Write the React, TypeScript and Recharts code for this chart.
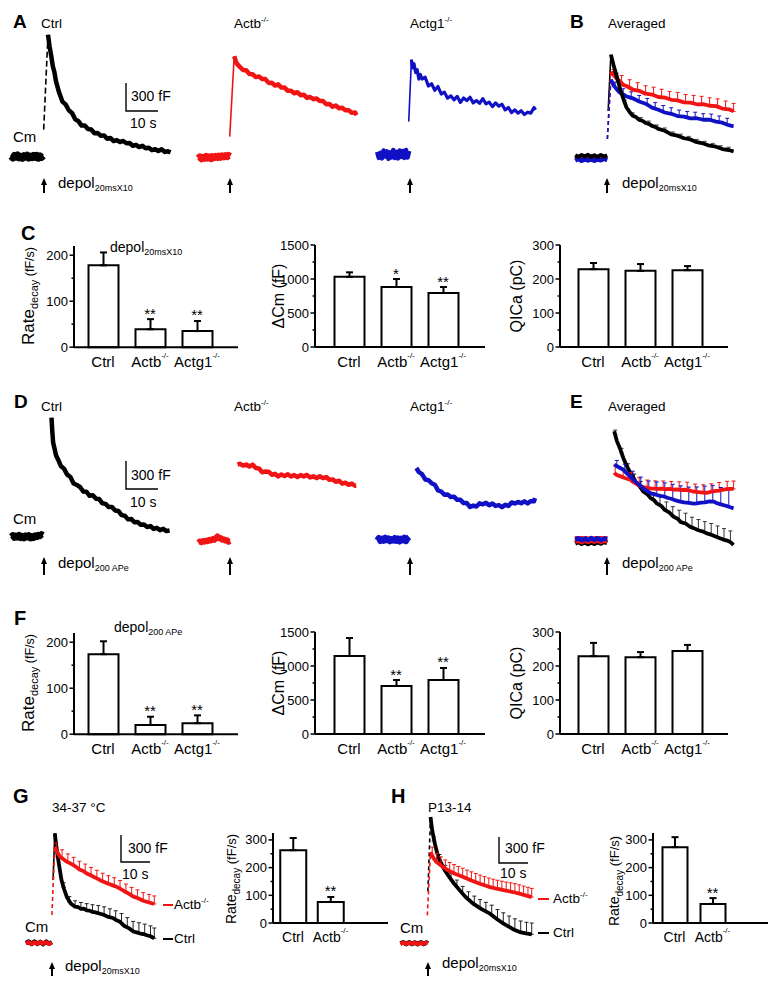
import React from 'react';
import { LineChart, Line, XAxis, YAxis, ErrorBar, ComposedChart, Bar, Scatter } from 'recharts';

const FONT = "'Liberation Sans', Arial, Helvetica, sans-serif";
const BLACK = '#000000';
const RED = '#f01414';
const BLUE = '#1010c4';

type Pt = [number, number];
type EPt = [number, number, number];

// ---------------- Panel A (single traces, depol 20ms x10) ----------------
const aCtrlBase: Pt[] = [[-10,5],[-9.5,-15],[-9,12],[-8.5,-5],[-8,18],[-7.5,-12],[-7,3],[-6.5,-18],[-6,10],[-5.5,-4],[-5,15],[-4.5,-14],[-4,6],[-3.5,-10],[-3,14],[-2.5,-6],[-2,12],[-1.5,-16],[-1,8],[-0.5,-8],[0,10]];
const aCtrlRise: Pt[] = [[0.15,290],[1.5,1307]];
const aCtrlDecay: Pt[] = [[1.5,1307],[2,1180],[2.5,1083],[3,970],[3.5,907],[4,807],[5,684],[6,590],[7,560],[8,497],[9,469],[10,401],[11,381],[12,333],[13,335],[14,296],[15,291],[16,251],[17,253],[18,225],[19,228],[20,192],[21,200],[22,167],[23,178],[24,157],[25,168],[26,144],[27,147],[28,117],[29,127],[30,103],[31,117],[32,90],[33,96],[34,70],[35,80],[36,60],[37,79],[38,51],[39,57],[39.8,46]];

const aActbBase: Pt[] = [[-10,-8],[-9.5,8],[-9,-12],[-8.5,4],[-8,-6],[-7.5,12],[-7,-4],[-6.5,8],[-6,-10],[-5.5,10],[-5,0],[-4.5,14],[-4,2],[-3.5,16],[-3,4],[-2.5,20],[-2,8],[-1.5,22],[-1,10],[-0.5,24],[0,14]];
const aActbRise: Pt[] = [[-0.15,225],[1.25,1086]];
const aActbDecay: Pt[] = [[1.25,1086],[1.6,1050],[2,1010],[3,973],[4,940],[5,937],[6,897],[7,894],[8,863],[9,870],[10,842],[11,842],[12,801],[13,803],[14,773],[15,785],[16,751],[17,751],[18,716],[19,718],[20,690],[21,701],[22,669],[23,675],[24,640],[25,650],[26,627],[27,634],[28,607],[29,607],[30,572],[31,576],[32,546],[33,559],[34,530],[35,535],[36,508],[37,509],[38,480],[39,485],[39.5,455]];

const aActg1Base: Pt[] = [[-10,30],[-9.5,-35],[-9,20],[-8.5,-40],[-8,45],[-7.5,-20],[-7,35],[-6.5,-45],[-6,25],[-5.5,-30],[-5,50],[-4.5,-35],[-4,30],[-3.5,-40],[-3,45],[-2.5,-25],[-2,40],[-1.5,-35],[-1,50],[-0.5,-30],[0,40]];
const aActg1Rise: Pt[] = [[-0.15,354],[0.7,1018]];
const aActg1Decay: Pt[] = [[0.7,1018],[1,930],[1.5,975],[2,880],[2.5,910],[3,810],[3.5,860],[4,810],[5,830],[6,735],[7,760],[8,690],[9,730],[10,650],[11,670],[12,605],[13,630],[14,587],[15,625],[16,560],[17,607],[18,579],[19,615],[20,555],[21,580],[22,550],[23,600],[24,545],[25,563],[26,515],[27,555],[28,520],[29,540],[30,480],[31,505],[32,450],[33,480],[34,445],[35,470],[36,430],[37,455],[38,445],[39,505],[39.5,480]];

// ---------------- Panel B (averaged, depol 20ms x10) ----------------
const bCtrlBase: Pt[] = [[-10,25],[-9,8],[-8,28],[-7,12],[-6,30],[-5,10],[-4,26],[-3,8],[-2,28],[-1,12],[0,24]];
const bActbBase: Pt[] = [[-10,-5],[-9,8],[-8,-10],[-7,5],[-6,-8],[-5,10],[-4,-5],[-3,8],[-2,-10],[-1,5],[0,-5]];
const bActg1Base: Pt[] = [[-10,-30],[-9,-12],[-8,-34],[-7,-16],[-6,-30],[-5,-14],[-4,-34],[-3,-16],[-2,-28],[-1,-12],[0,-26]];
const bCtrlRise: Pt[] = [[0.3,500],[1.15,1104]];
const bActbRise: Pt[] = [[0.05,200],[1.15,921]];
const bActg1Rise: Pt[] = [[0.05,200],[1.15,836]];
const bCtrlMean: Pt[] = [[1.15,1104],[2,990],[3,870],[4,740],[5,635],[6,540],[7,490],[8,450],[9,435],[10,405],[11,395],[12,372],[13,362],[14,340],[15,330],[16,308],[18,288],[20,250],[22,235],[24,208],[26,195],[28,166],[30,152],[32,128],[34,117],[36,92],[38,82],[39.5,66]];
const bActbMean: Pt[] = [[1.15,921],[2,885],[3,845],[4,818],[5,780],[6,768],[8,730],[10,716],[12,685],[14,676],[16,650],[18,644],[20,620],[22,614],[24,592],[26,590],[28,572],[30,574],[32,556],[34,552],[36,526],[38,518],[39.5,496]];
const bActg1Mean: Pt[] = [[1.15,836],[2,775],[3,732],[4,696],[5,678],[6,656],[8,636],[10,602],[12,578],[14,536],[16,514],[18,484],[20,470],[22,446],[24,440],[26,421],[28,422],[30,406],[32,406],[34,386],[36,375],[38,348],[39.5,336]];
const bCtrlErr: EPt[] = [[3,870,35],[5.5,585,30],[8,450,30],[10.5,400,30],[13,362,30],[15.5,320,30],[18,288,30],[20.5,245,30],[23,222,30],[25.5,198,30],[28,166,30],[30.5,145,30],[33,123,30],[35.5,98,30],[38,82,30]];
const bActbErr: EPt[] = [[2,885,60],[4.5,800,80],[7,750,85],[9.5,718,85],[12,685,85],[14.5,670,85],[17,648,85],[19.5,625,85],[22,614,85],[24.5,592,85],[27,582,85],[29.5,572,85],[32,556,85],[34.5,545,85],[37,522,85],[39.5,496,85]];
const bActg1Err: EPt[] = [[2.5,755,55],[5,678,60],[7.5,640,65],[10,602,65],[12.5,570,65],[15,525,65],[17.5,494,65],[20,470,65],[22.5,445,65],[25,430,65],[27.5,422,65],[30,406,65],[32.5,402,65],[35,382,65],[37.5,357,65]];

// ---------------- Panel D (single traces, depol 200 APe) ----------------
const dCtrlBase: Pt[] = [[-10,0],[-9.5,14],[-9,-10],[-8.5,8],[-8,-6],[-7.5,15],[-7,-12],[-6.5,4],[-6,-15],[-5.5,10],[-5,-5],[-4.5,12],[-4,-16],[-3.5,2],[-3,-12],[-2.5,10],[-2,-2],[-1.5,18],[-1,8],[-0.5,24],[0,16]];
const dCtrlDecay: Pt[] = [[2.6,1275],[2.8,1150],[3.1,1010],[3.5,950],[4,872],[4.6,830],[5.5,758],[6.5,729],[7.5,664],[8.5,639],[9.5,570],[10.5,554],[11.5,532],[12.5,485],[13.5,482],[14.5,438],[15.5,443],[16.5,407],[17.5,403],[18.5,357],[19.5,351],[20.5,317],[21.5,318],[22.5,281],[23.5,276],[24.5,231],[25.5,225],[26.5,185],[27.5,190],[28.5,154],[29.5,158],[30.5,127],[31.5,130],[32.5,103],[33.5,114],[34.5,83],[35.5,94],[36.5,70],[37.5,84],[38.5,60],[39.5,65]];
const dActbBase: Pt[] = [[-10,0],[-9.5,12],[-9,4],[-8.5,18],[-8,10],[-7.5,24],[-7,16],[-6.5,32],[-6,24],[-5.5,38],[-5,30],[-4.5,48],[-4,66],[-3.5,46],[-3,50],[-2.5,32],[-2,36],[-1.5,22],[-1,26],[-0.5,10],[0,18]];
const dActbDecay: Pt[] = [[2.3,836],[3,845],[4,827],[5,837],[6,816],[7,836],[8,799],[9,794],[10,755],[11,762],[12,760],[13,728],[14,737],[15,710],[16,731],[17,715],[18,733],[19,709],[20,724],[21,704],[22,724],[23,710],[24,726],[25,699],[26,711],[27,691],[28,712],[29,691],[30,703],[31,674],[32,678],[33,652],[34,664],[35,632],[36,643],[37,620],[38,634],[39,610],[39.4,611]];
const dActg1Base: Pt[] = [[-10,-8],[-9.5,18],[-9,-15],[-8.5,10],[-8,-12],[-7.5,22],[-7,-6],[-6.5,14],[-6,-18],[-5.5,6],[-5,-10],[-4.5,18],[-4,-14],[-3.5,14],[-3,-20],[-2.5,10],[-2,-6],[-1.5,22],[-1,-16],[-0.5,14],[0,28]];
const dActg1Decay: Pt[] = [[2.25,768],[3,725],[4,702],[5,645],[6,638],[7,605],[8,589],[9,528],[10,516],[11,481],[12,485],[13,456],[14,461],[15,427],[16,427],[17,392],[18,392],[19,350],[20,365],[21,355],[22,389],[23,379],[24,394],[25,368],[26,387],[27,362],[28,370],[29,348],[30,373],[31,361],[32,398],[33,388],[34,404],[35,390],[36,410],[37,389],[38,412],[39,411],[39.3,445]];

// ---------------- Panel E (averaged, depol 200 APe) ----------------
const eCtrlBase: Pt[] = [[-10,-18],[-9,-2],[-8,-22],[-7,-6],[-6,-24],[-5,-8],[-4,-22],[-3,-4],[-2,-20],[-1,-2],[0,-14]];
const eActbBase: Pt[] = [[-10,0],[-9,12],[-8,-5],[-7,10],[-6,-2],[-5,14],[-4,0],[-3,12],[-2,-4],[-1,10],[0,2]];
const eActg1Base: Pt[] = [[-10,20],[-9,36],[-8,16],[-7,34],[-6,18],[-5,38],[-4,20],[-3,36],[-2,16],[-1,34],[0,24]];
const eActbBaseErr: EPt[] = [[-9.5,10,45],[-8,10,45],[-6.5,10,45],[-5,10,45],[-3.5,10,45],[-2,10,45],[-0.5,10,45]];
const eCtrlMean: Pt[] = [[2.2,1182],[3,1080],[4.1,990],[5,900],[6,820],[7.2,740],[8,700],[9,630],[10,600],[11.3,535],[12.5,510],[13.5,470],[14.5,448],[15.5,410],[17,380],[18,340],[19.5,310],[20.7,268],[22,245],[23,210],[24.5,195],[25.9,160],[27,145],[28.5,122],[30,108],[31.1,88],[32.5,75],[33.5,60],[35,40],[36.3,22],[37.5,12],[38.5,-5],[39.5,-35]];
const eActbMean: Pt[] = [[2.2,736],[3,715],[4,702],[5.5,682],[7.2,664],[8,640],[9,622],[10,600],[11.3,586],[12.5,575],[13.5,570],[15.5,565],[17,568],[18,562],[19.5,565],[20.7,558],[22,560],[23,552],[24.5,556],[25.9,548],[27,535],[28.5,530],[30,525],[31.1,522],[32.5,535],[33.5,542],[35,548],[36.3,557],[38,565],[39.5,565]];
const eActg1Mean: Pt[] = [[2.2,825],[3.5,800],[5.1,771],[6,735],[7.2,700],[8.3,660],[9.3,629],[10.3,600],[11.3,570],[12.4,545],[13.4,522],[14.5,508],[15.5,500],[16.6,490],[17.6,486],[19,468],[20,460],[21.4,442],[22.8,429],[24,420],[25.5,415],[27,408],[28,411],[29.3,418],[30.5,420],[32,432],[33.2,429],[34.5,410],[35.5,400],[36.5,390],[37.5,380],[38.5,368],[39.5,357]];
const eCtrlErr: EPt[] = [[2.5,1150,45],[4.5,950,50],[6.5,780,55],[8.5,665,60],[10.5,575,70],[12.5,505,75],[14.5,448,80],[16.5,392,90],[18.5,330,95],[20.5,275,100],[22.5,232,105],[24.5,195,110],[26.5,152,110],[28.5,122,115],[30.5,100,115],[32.5,75,120],[34.5,48,120],[36.5,20,120],[38.5,-5,120]];
const eActbErr: EPt[] = [[2.5,730,90],[5,690,85],[7.5,655,85],[10,600,85],[12.5,575,85],[15,566,85],[17.5,565,85],[20,560,85],[22.5,556,85],[25,552,85],[27.5,532,85],[30,525,85],[32.5,535,85],[35,548,85],[37.5,562,85],[39.5,565,85]];
const eActg1Err: EPt[] = [[3,810,60],[5.5,760,70],[8,670,85],[10.5,592,100],[13,530,120],[15.5,500,140],[18,480,150],[20.5,455,160],[23,428,170],[25.5,415,170],[28,411,175],[30.5,420,175],[33,428,175],[35.5,400,180],[38,375,180]];

// ---------------- Panel G (34-37 C) ----------------
const gCtrlBase: Pt[] = [[-9,0],[-8,15],[-7,-10],[-6,15],[-5,-10],[-4,12],[-3,-12],[-2,15],[-1,-8],[0,10]];
const gActbBase: Pt[] = [[-9,-5],[-8,10],[-7,-12],[-6,8],[-5,-10],[-4,12],[-3,-8],[-2,10],[-1,-10],[0,5]];
const gCtrlRise: Pt[] = [[0.4,700],[1.0,1219]];
const gActbRise: Pt[] = [[0,311],[1.0,1070]];
const gCtrlMean: Pt[] = [[1.0,1219],[1.5,1080],[2.2,922],[2.8,800],[3.3,700],[4.2,600],[5.1,515],[6.5,440],[7.9,404],[9,400],[10,380],[11,382],[12,362],[13,360],[14,345],[15,340],[16.6,325],[18,312],[19.5,290],[21,278],[22.3,252],[23.5,235],[25,188],[26.5,165],[28.1,128],[29.5,115],[30.5,105],[31.5,100],[32.7,86],[34,75],[35.3,52]];
const gActbMean: Pt[] = [[1.0,1070],[1.8,1010],[2.8,959],[4,930],[5,905],[6,890],[7.4,865],[8.5,842],[9.5,818],[10.8,800],[12,772],[13.2,755],[14.5,733],[15.5,718],[16.6,698],[18,678],[19.5,658],[21,640],[22.3,624],[23.5,605],[25,575],[26.5,548],[28.1,515],[29.5,500],[31.5,470],[33.5,450],[35.3,433]];
const gCtrlErr: EPt[] = [[2,960,40],[4,620,50],[6,455,60],[8,404,65],[10,380,70],[12,362,75],[14,345,80],[16,332,85],[18,312,90],[20,285,95],[22,258,100],[24,222,105],[26,172,110],[28,130,110],[30,110,115],[32,95,115],[34,75,115],[35.3,52,115]];
const gActbErr: EPt[] = [[1.5,1030,80],[3.5,945,90],[5.5,900,90],[7.5,862,90],[9.5,818,90],[11.5,787,90],[13.5,750,90],[15.5,718,90],[17.5,685,90],[19.5,658,90],[21.5,635,90],[23.5,605,90],[25.5,565,90],[27.5,528,90],[29.5,500,90],[31.5,470,90],[33.5,450,90],[35.3,433,90]];

// ---------------- Panel H (P13-14) ----------------
const hCtrlBase: Pt[] = [[-9.5,0],[-8.5,12],[-7.5,-10],[-6.5,12],[-5.5,-8],[-4.5,10],[-3.5,-10],[-2.5,12],[-1.5,-8],[-0.5,10],[0,0]];
const hActbBase: Pt[] = [[-9.5,-5],[-8.5,8],[-7.5,-8],[-6.5,10],[-5.5,-6],[-4.5,8],[-3.5,-10],[-2.5,8],[-1.5,-6],[-0.5,8],[0,-2]];
const hCtrlRise: Pt[] = [[0,600],[0.9,1457]];
const hActbRise: Pt[] = [[-0.2,323],[0.9,1053]];
const hCtrlMean: Pt[] = [[0.9,1457],[1.5,1300],[2.4,1150],[3.2,1040],[4.1,957],[5.5,860],[7,784],[9,690],[11,611],[13,535],[15.6,458],[18.5,395],[21.4,342],[24,275],[25.5,240],[27.1,208],[28.5,180],[29.5,160],[31.7,130],[33.8,115],[35.8,104]];
const hActbMean: Pt[] = [[0.9,1053],[1.8,990],[3.0,938],[5,885],[7,842],[9.5,800],[12.2,765],[15,725],[17.9,688],[20.8,655],[23.7,630],[26.5,610],[29.4,592],[32.5,565],[35.8,534]];
const hCtrlErr: EPt[] = [[2,1180,50],[4,965,60],[6,830,70],[8,735,75],[10,650,80],[12,572,85],[14,505,90],[16,450,95],[18,405,100],[20,368,105],[22,330,110],[24,275,115],[26,232,120],[28,190,125],[30,153,130],[32,128,130],[34,113,130],[35.8,104,130]];
const hActbErr: EPt[] = [[1.5,1010,100],[3,938,100],[4.5,897,100],[6,862,100],[7.5,833,100],[9,808,100],[10.5,787,100],[12,767,100],[13.5,745,100],[15,725,100],[16.5,706,100],[18,687,100],[19.5,670,100],[21,653,100],[22.5,640,100],[24,628,100],[25.5,617,100],[27,607,100],[28.5,598,100],[30,588,100],[31.5,575,100],[33,560,100],[34.5,547,100],[35.8,534,100]];

// ---------------- Bar charts ----------------
const groups3 = ['Ctrl', 'Actb-/-', 'Actg1-/-'];
const groups2 = ['Ctrl', 'Actb-/-'];
const cRateMean = [178, 39, 35];
const cRateSem = [28, 22, 22];
const cRateSig = ['', '**', '**'];
const cCmMean = [1032, 882, 794];
const cCmSem = [66, 118, 88];
const cCmSig = ['', '*', '**'];
const cQMean = [229, 224, 226];
const cQSem = [18, 20, 12];
const fRateMean = [174, 20, 24];
const fRateSem = [28, 18, 17];
const fRateSig = ['', '**', '**'];
const fCmMean = [1147, 706, 794];
const fCmSem = [265, 88, 177];
const fCmSig = ['', '**', '**'];
const fQMean = [229, 226, 244];
const fQSem = [39, 15, 18];
const gRateMean = [263, 76];
const gRateSem = [44, 18];
const hRateMean = [274, 69];
const hRateSem = [36, 21];
const sig2 = ['', '**'];
const noSig3 = ['', '', ''];
const rateTicks = [0, 50, 100, 150, 200];
const rateMajor = [0, 100, 200];
const cmTicks = [0, 250, 500, 750, 1000, 1250, 1500];
const cmMajor = [0, 500, 1000, 1500];
const qTicks = [0, 50, 100, 150, 200, 250, 300];
const qMajor = [0, 100, 200, 300];

// ---------------- Components ----------------
interface Item { d: Pt[] | EPt[]; c: string; w?: number; dash?: string; err?: boolean; cap?: number }

function Trace({ ax, by, sx, sy, items }: { ax: number; by: number; sx: number; sy: number; items: Item[] }) {
  const t0 = -11, t1 = 41, v0 = -300, v1 = 1700;
  const W = (t1 - t0) * sx;
  const H = (v1 - v0) * sy;
  return (
    <div style={{ position: 'absolute', left: ax + t0 * sx, top: by - v1 * sy, width: W, height: H }}>
      <LineChart width={W} height={H} margin={{ top: 0, right: 0, bottom: 0, left: 0 }}>
        <XAxis type="number" dataKey="t" domain={[t0, t1]} hide />
        <YAxis type="number" domain={[v0, v1]} hide />
        {items.map((it, i) =>
          it.err ? (
            <Line
              key={i}
              data={(it.d as EPt[]).map(([t, v, e]) => ({ t, v, er: [0, e] }))}
              dataKey="v"
              stroke="none"
              dot={false}
              isAnimationActive={false}
            >
              <ErrorBar dataKey="er" direction="y" width={it.cap ?? 2} stroke={it.c} strokeWidth={it.w ?? 1} />
            </Line>
          ) : (
            <Line
              key={i}
              data={(it.d as Pt[]).map(([t, v]) => ({ t, v }))}
              dataKey="v"
              type="linear"
              stroke={it.c}
              strokeWidth={it.w ?? 3.5}
              strokeDasharray={it.dash}
              strokeLinejoin="round"
              dot={false}
              isAnimationActive={false}
            />
          )
        )}
      </LineChart>
    </div>
  );
}

const catTick = (fs: number, dy: number, supDy: number) => (p: any) => {
  const label: string = String(p.payload.value);
  const ko = label.endsWith('-/-');
  const base = ko ? label.slice(0, -3) : label;
  return (
    <text x={p.x} y={p.y + dy} textAnchor="middle" fontSize={fs} fontFamily={FONT} fill="#000">
      {base}
      {ko ? <tspan dy={supDy} fontSize={8}>-/-</tspan> : null}
    </text>
  );
};

const yTick = (majors: number[], fs: number) => (p: any) => {
  const v = p.payload.value;
  const major = majors.includes(v);
  return (
    <g>
      <line x1={p.x - (major ? 4.5 : 2.5)} x2={p.x} y1={p.y} y2={p.y} stroke="#000" strokeWidth={1.5} />
      {major ? (
        <text x={p.x - 6} y={p.y + 4.5} textAnchor="end" fontSize={fs} fontFamily={FONT} fill="#000">{v}</text>
      ) : null}
    </g>
  );
};

interface BP {
  axisX: number; y0: number; max: number; ppu: number; xEnd: number; padL: number; padR: number; barSize: number;
  cats: string[]; mean: number[]; sem: number[]; sig: string[]; ticks: number[]; majors: number[];
  tickFs: number; catFs: number; catDy: number;
}

function BarPanel(b: BP) {
  const YW = 50, MT = 10, XH = 34, MR = 6;
  const plotH = b.max * b.ppu;
  const W = YW + (b.xEnd - b.axisX) + MR;
  const H = MT + plotH + XH;
  const data = b.cats.map((c, i) => ({ c, v: b.mean[i], e: [0, b.sem[i]], top: b.mean[i] + b.sem[i], s: b.sig[i] }));
  return (
    <div style={{ position: 'absolute', left: b.axisX - YW, top: b.y0 - plotH - MT }}>
      <ComposedChart width={W} height={H} data={data} margin={{ top: MT, right: MR, bottom: 0, left: 0 }}>
        <XAxis
          dataKey="c"
          type="category"
          height={XH}
          axisLine={{ stroke: '#000', strokeWidth: 2 }}
          tickLine={false}
          tickSize={0}
          tickMargin={0}
          interval={0}
          padding={{ left: b.padL, right: b.padR }}
          tick={catTick(b.catFs, b.catDy, -9)}
        />
        <YAxis
          type="number"
          domain={[0, b.max]}
          ticks={b.ticks}
          interval={0}
          width={YW}
          axisLine={{ stroke: '#000', strokeWidth: 2 }}
          tickLine={false}
          tickSize={0}
          tickMargin={0}
          tick={yTick(b.majors, b.tickFs)}
        />
        <Bar dataKey="v" barSize={b.barSize} fill="#ffffff" stroke="#000" strokeWidth={2} isAnimationActive={false}>
          <ErrorBar dataKey="e" direction="y" width={3.5} stroke="#000" strokeWidth={2} />
        </Bar>
        <Scatter
          dataKey="top"
          isAnimationActive={false}
          shape={(p: any) => (
            <text x={p.cx} y={p.cy - 0.5} textAnchor="middle" fontSize={15} fontFamily={FONT} fill="#000">
              {p.payload.s}
            </text>
          )}
        />
      </ComposedChart>
    </div>
  );
}

const T = ({ x, y, s = 13.5, b = false, children, anchor }: any) => (
  <text x={x} y={y} fontSize={s} fontWeight={b ? 'bold' : 'normal'} fontFamily={FONT} fill="#000" textAnchor={anchor}>
    {children}
  </text>
);

const KO = ({ x, y, name, s = 13.5, sup = 8, dy = -6 }: any) => (
  <text x={x} y={y} fontSize={s} fontFamily={FONT} fill="#000">
    {name}
    <tspan dy={dy} fontSize={sup}>-/-</tspan>
  </text>
);

const Depol = ({ x, y, sub, s = 15, ss = 9 }: any) => (
  <text x={x} y={y} fontSize={s} fontFamily={FONT} fill="#000">
    depol
    <tspan dy={3} fontSize={ss}>{sub}</tspan>
  </text>
);

const Arrow = ({ x, top, bottom }: any) => (
  <g>
    <line x1={x} x2={x} y1={top + 5} y2={bottom} stroke="#000" strokeWidth={2} />
    <polygon points={`${x - 3},${top + 7} ${x + 3},${top + 7} ${x},${top}`} fill="#000" />
  </g>
);

const Scale = ({ x, top, bottom, right }: any) => (
  <path d={`M${x},${top} L${x},${bottom} L${right},${bottom}`} fill="none" stroke="#000" strokeWidth={1.4} />
);

const RateLabel = ({ x, y, s1, s2, s3 }: any) => (
  <text x={x} y={y} transform={`rotate(-90 ${x} ${y})`} textAnchor="middle" fontFamily={FONT} fill="#000">
    <tspan fontSize={s1}>Rate</tspan>
    <tspan fontSize={s2} dy={4}>decay</tspan>
    <tspan fontSize={s3} dy={-4}> (fF/s)</tspan>
  </text>
);

const VLabel = ({ x, y, s = 16, children }: any) => (
  <text x={x} y={y} transform={`rotate(-90 ${x} ${y})`} textAnchor="middle" fontSize={s} fontFamily={FONT} fill="#000">
    {children}
  </text>
);

const S1 = { sx: 3.2, sy: 28 / 300 };

export default function App() {
  return (
    <div style={{ position: 'absolute', left: 0, top: 0, width: 780, height: 988, background: '#fff', overflow: 'hidden' }}>
      {/* Row A */}
      <Trace ax={43.5} by={157} {...S1} items={[
        { d: aCtrlBase, c: BLACK, w: 7 },
        { d: aCtrlRise, c: BLACK, w: 1.6, dash: '6 3' },
        { d: aCtrlDecay, c: BLACK, w: 4.5 },
      ]} />
      <Trace ax={230} by={158} {...S1} items={[
        { d: aActbBase, c: RED, w: 7 },
        { d: aActbRise, c: RED, w: 1.6 },
        { d: aActbDecay, c: RED, w: 4.5 },
      ]} />
      <Trace ax={409.5} by={155} {...S1} items={[
        { d: aActg1Base, c: BLUE, w: 4.5 },
        { d: aActg1Rise, c: BLUE, w: 1.6 },
        { d: aActg1Decay, c: BLUE, w: 3.2 },
      ]} />
      <Trace ax={607} by={158} {...S1} items={[
        { d: bActbBase, c: RED, w: 4.5 },
        { d: bActg1Base, c: BLUE, w: 4.5 },
        { d: bCtrlBase, c: BLACK, w: 4 },
        { d: bActbErr, c: RED, err: true, cap: 2 },
        { d: bActg1Err, c: BLUE, err: true, cap: 2 },
        { d: bCtrlErr, c: '#444', err: true, cap: 2 },
        { d: bCtrlRise, c: BLACK, w: 1.6 },
        { d: bActbMean, c: RED, w: 3.8 },
        { d: bActg1Mean, c: BLUE, w: 3.8 },
        { d: bCtrlMean, c: BLACK, w: 3.8 },
        { d: bActbRise, c: RED, w: 1.6, dash: '4 3' },
        { d: bActg1Rise, c: BLUE, w: 1.6, dash: '4 3' },
      ]} />

      {/* Row D */}
      <Trace ax={43.5} by={537} {...S1} items={[
        { d: dCtrlBase, c: BLACK, w: 6.5 },
        { d: dCtrlDecay, c: BLACK, w: 4.5 },
      ]} />
      <Trace ax={230} by={543} {...S1} items={[
        { d: dActbBase, c: RED, w: 6 },
        { d: dActbDecay, c: RED, w: 4.5 },
      ]} />
      <Trace ax={409.5} by={540} {...S1} items={[
        { d: dActg1Base, c: BLUE, w: 6 },
        { d: dActg1Decay, c: BLUE, w: 4.5 },
      ]} />
      <Trace ax={607} by={542} {...S1} items={[
        { d: eActbBaseErr, c: RED, err: true, cap: 2 },
        { d: eCtrlBase, c: BLACK, w: 4.5 },
        { d: eActbBase, c: RED, w: 4.5 },
        { d: eActg1Base, c: BLUE, w: 4.5 },
        { d: eCtrlErr, c: '#333', err: true, cap: 2 },
        { d: eCtrlMean, c: BLACK, w: 3.8 },
        { d: eActbErr, c: RED, err: true, cap: 2 },
        { d: eActg1Err, c: BLUE, err: true, cap: 2 },
        { d: eActbMean, c: RED, w: 3.8 },
        { d: eActg1Mean, c: BLUE, w: 3.8 },
      ]} />

      {/* Row G / H */}
      <Trace ax={52} by={943} sx={2.9} sy={0.09} items={[
        { d: gCtrlBase, c: BLACK, w: 4.5 },
        { d: gActbBase, c: RED, w: 4 },
        { d: gCtrlErr, c: '#222', err: true, cap: 2 },
        { d: gCtrlRise, c: BLACK, w: 1.6 },
        { d: gCtrlMean, c: BLACK, w: 3.8 },
        { d: gActbErr, c: RED, err: true, cap: 2 },
        { d: gActbMean, c: RED, w: 3.8 },
        { d: gActbRise, c: RED, w: 1.6, dash: '4 3' },
      ]} />
      <Trace ax={428} by={943} sx={2.9} sy={26 / 300} items={[
        { d: hCtrlBase, c: BLACK, w: 4.5 },
        { d: hActbBase, c: RED, w: 4 },
        { d: hCtrlErr, c: '#222', err: true, cap: 2 },
        { d: hCtrlRise, c: BLACK, w: 1.6, dash: '4 3' },
        { d: hCtrlMean, c: BLACK, w: 3.8 },
        { d: hActbErr, c: RED, err: true, cap: 2 },
        { d: hActbMean, c: RED, w: 3.8 },
        { d: hActbRise, c: RED, w: 1.6, dash: '4 3' },
      ]} />

      {/* Bar charts row C */}
      <BarPanel axisX={74} y0={347} max={220} ppu={0.46} xEnd={238} padL={5.5} padR={17.5} barSize={30}
        cats={groups3} mean={cRateMean} sem={cRateSem} sig={cRateSig} ticks={rateTicks} majors={rateMajor} tickFs={13} catFs={15} catDy={20} />
      <BarPanel axisX={315} y0={347} max={1500} ppu={0.068} xEnd={485} padL={10.5} padR={18.5} barSize={30}
        cats={groups3} mean={cCmMean} sem={cCmSem} sig={cCmSig} ticks={cmTicks} majors={cmMajor} tickFs={13} catFs={15} catDy={20} />
      <BarPanel axisX={560} y0={347} max={300} ppu={0.34} xEnd={728} padL={9.5} padR={17.5} barSize={30}
        cats={groups3} mean={cQMean} sem={cQSem} sig={noSig3} ticks={qTicks} majors={qMajor} tickFs={13} catFs={15} catDy={20} />

      {/* Bar charts row F */}
      <BarPanel axisX={74} y0={734} max={220} ppu={0.46} xEnd={238} padL={5.5} padR={17.5} barSize={30}
        cats={groups3} mean={fRateMean} sem={fRateSem} sig={fRateSig} ticks={rateTicks} majors={rateMajor} tickFs={13} catFs={15} catDy={20} />
      <BarPanel axisX={315} y0={734} max={1500} ppu={0.068} xEnd={485} padL={10.5} padR={18.5} barSize={30}
        cats={groups3} mean={fCmMean} sem={fCmSem} sig={fCmSig} ticks={cmTicks} majors={cmMajor} tickFs={13} catFs={15} catDy={20} />
      <BarPanel axisX={560} y0={734} max={300} ppu={0.34} xEnd={728} padL={9.5} padR={17.5} barSize={30}
        cats={groups3} mean={fQMean} sem={fQSem} sig={noSig3} ticks={qTicks} majors={qMajor} tickFs={13} catFs={15} catDy={20} />

      {/* Bar charts G / H */}
      <BarPanel axisX={273} y0={923} max={325} ppu={0.277} xEnd={388} padL={1.25} padR={38.75} barSize={26}
        cats={groups2} mean={gRateMean} sem={gRateSem} sig={sig2} ticks={qTicks} majors={qMajor} tickFs={13} catFs={14} catDy={19} />
      <BarPanel axisX={653} y0={923} max={325} ppu={0.277} xEnd={768} padL={2.5} padR={36.5} barSize={25}
        cats={groups2} mean={hRateMean} sem={hRateSem} sig={sig2} ticks={qTicks} majors={qMajor} tickFs={13} catFs={14} catDy={19} />

      {/* Annotations */}
      <svg width={780} height={988} style={{ position: 'absolute', left: 0, top: 0, pointerEvents: 'none' }}>
        {/* Row A/B */}
        <T x={13} y={28} s={19} b>A</T>
        <T x={41} y={28}>Ctrl</T>
        <KO x={234} y={28} name="Actb" />
        <KO x={410} y={28} name="Actg1" />
        <T x={570} y={28} s={19} b>B</T>
        <T x={608} y={28}>Averaged</T>
        <T x={13} y={142} s={15}>Cm</T>
        <Scale x={126} top={83} bottom={111} right={158} />
        <T x={131} y={101} s={14}>300 fF</T>
        <T x={130} y={128} s={14}>10 s</T>
        <Arrow x={44} top={178} bottom={193} />
        <Arrow x={230} top={178} bottom={193} />
        <Arrow x={410} top={178} bottom={193} />
        <Arrow x={607} top={178} bottom={193} />
        <Depol x={58} y={188} sub="20msX10" />
        <Depol x={622} y={188} sub="20msX10" />

        {/* Row C */}
        <T x={21} y={240} s={20} b>C</T>
        <Depol x={110} y={252} sub="20msX10" s={14} />
        <RateLabel x={34} y={296} s1={17} s2={11} s3={12.5} />
        <VLabel x={284} y={296}>ΔCm (fF)</VLabel>
        <VLabel x={522} y={296}>QICa (pC)</VLabel>

        {/* Row D/E */}
        <T x={14} y={408} s={19} b>D</T>
        <T x={41} y={411}>Ctrl</T>
        <KO x={234} y={411} name="Actb" />
        <KO x={410} y={411} name="Actg1" />
        <T x={570} y={408} s={19} b>E</T>
        <T x={608} y={411}>Averaged</T>
        <T x={13} y={524} s={15}>Cm</T>
        <Scale x={126} top={461} bottom={489} right={158} />
        <T x={131} y={480} s={14}>300 fF</T>
        <T x={130} y={507} s={14}>10 s</T>
        <Arrow x={44} top={557} bottom={575} />
        <Arrow x={230} top={557} bottom={575} />
        <Arrow x={410} top={557} bottom={575} />
        <Arrow x={607} top={557} bottom={575} />
        <Depol x={58} y={568} sub="200 APe" />
        <Depol x={622} y={568} sub="200 APe" />

        {/* Row F */}
        <T x={14} y={625} s={20} b>F</T>
        <Depol x={114} y={632} sub="200 APe" s={14} />
        <RateLabel x={34} y={683} s1={17} s2={11} s3={12.5} />
        <VLabel x={284} y={683}>ΔCm (fF)</VLabel>
        <VLabel x={522} y={683}>QICa (pC)</VLabel>

        {/* Row G */}
        <T x={13} y={803} s={20} b>G</T>
        <T x={52} y={812}>34-37 °C</T>
        <T x={25} y={932} s={15}>Cm</T>
        <Scale x={121} top={835} bottom={862} right={150} />
        <T x={128} y={853} s={14}>300 fF</T>
        <T x={122} y={879} s={14}>10 s</T>
        <line x1={163} x2={173} y1={905} y2={905} stroke={RED} strokeWidth={2} />
        <KO x={174} y={909} name="Actb" s={13.5} />
        <line x1={163} x2={173} y1={939} y2={939} stroke={BLACK} strokeWidth={2} />
        <T x={174} y={943}>Ctrl</T>
        <Arrow x={52} top={962} bottom={976} />
        <Depol x={65} y={971} sub="20msX10" />
        <RateLabel x={236} y={879} s1={14} s2={10} s3={13} />

        {/* Row H */}
        <T x={391} y={803} s={20} b>H</T>
        <T x={428} y={812}>P13-14</T>
        <T x={400} y={933} s={15}>Cm</T>
        <Scale x={499} top={837} bottom={863} right={528} />
        <T x={505} y={853} s={14}>300 fF</T>
        <T x={500} y={878} s={14}>10 s</T>
        <line x1={538} x2={549} y1={899} y2={899} stroke={RED} strokeWidth={2} />
        <KO x={553} y={903} name="Actb" s={13.5} />
        <line x1={538} x2={549} y1={933} y2={933} stroke={BLACK} strokeWidth={2} />
        <T x={553} y={937}>Ctrl</T>
        <Arrow x={428} top={962} bottom={976} />
        <Depol x={442} y={968} sub="20msX10" />
        <RateLabel x={619} y={881} s1={14} s2={10} s3={13} />
      </svg>
    </div>
  );
}
